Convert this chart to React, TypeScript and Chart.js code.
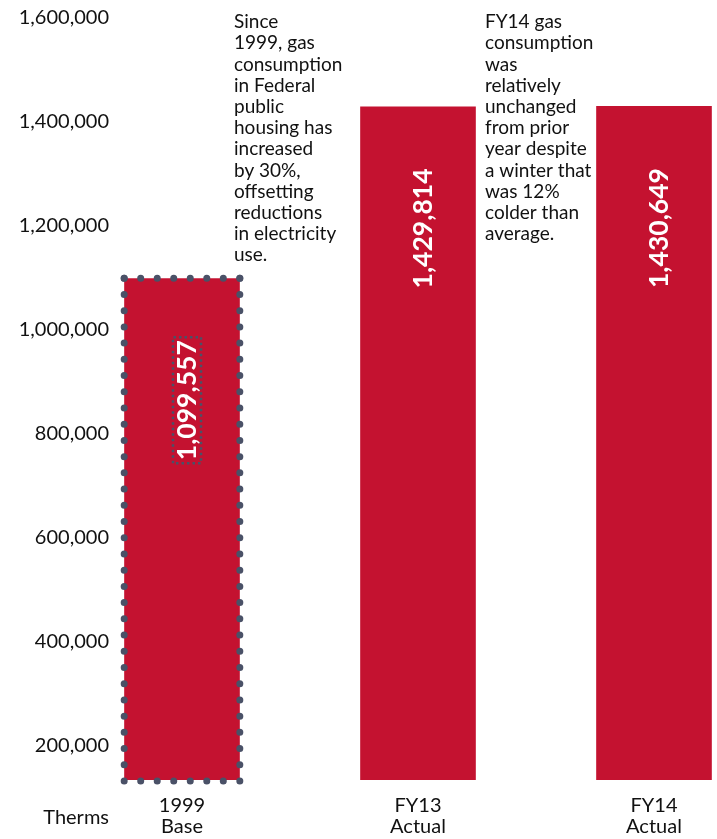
import React, { useEffect, useRef } from "react";
import { Chart, registerables } from "chart.js";

Chart.register(...registerables);

const categories: string[][] = [
  ["1999", "Base"],
  ["FY13", "Actual"],
  ["FY14", "Actual"],
];
const therms: number[] = [1099557, 1429814, 1430649];
const yTicks: number[] = [200000, 400000, 600000, 800000, 1000000, 1200000, 1400000, 1600000];
const axisUnit = "Therms";
const note1Lines: string[] = [
  "Since",
  "1999, gas",
  "consumption",
  "in Federal",
  "public",
  "housing has",
  "increased",
  "by 30%,",
  "offsetting",
  "reductions",
  "in electricity",
  "use.",
];
const note2Lines: string[] = [
  "FY14 gas",
  "consumption",
  "was",
  "relatively",
  "unchanged",
  "from prior",
  "year despite",
  "a winter that",
  "was 12%",
  "colder than",
  "average.",
];

const FONT = 'Lato, "Open Sans", "Noto Sans", sans-serif';
const RED = "#C41230";
const DOT = "#4A5167";
const TEXT = "#111111";
const Y_FONT_SIZE = 20;
const AXIS_LEFT = 64;
const LABEL_RIGHT = 109;

const fmt = (v: number) => v.toLocaleString("en-US");

function drawDottedLine(ctx: CanvasRenderingContext2D, x1: number, y1: number, x2: number, y2: number, step: number) {
  const len = Math.hypot(x2 - x1, y2 - y1);
  const n = Math.max(1, Math.round(len / step));
  const gap = len / n;
  ctx.setLineDash([0, gap]);
  ctx.beginPath();
  ctx.moveTo(x1, y1);
  ctx.lineTo(x2, y2);
  ctx.stroke();
}

const decorPlugin = {
  id: "decor",
  afterDatasetsDraw(chart: any) {
    const ctx: CanvasRenderingContext2D = chart.ctx;
    const meta = chart.getDatasetMeta(0);
    const xs = chart.scales.x;
    const area = chart.chartArea;
    ctx.save();

    // dotted border around the base-year bar
    const b0 = meta.data[0].getProps(["x", "y", "base", "width"], true);
    const l = b0.x - b0.width / 2;
    const r = b0.x + b0.width / 2;
    const bottom = Math.min(b0.base, area.bottom) + 1;
    ctx.strokeStyle = DOT;
    ctx.lineWidth = 7;
    ctx.lineCap = "round";
    drawDottedLine(ctx, l, b0.y, r, b0.y, 16.4);
    drawDottedLine(ctx, r, b0.y, r, bottom, 16.4);
    drawDottedLine(ctx, l, bottom, r, bottom, 16.4);
    drawDottedLine(ctx, l, b0.y, l, bottom, 16.4);
    ctx.setLineDash([]);

    // value labels inside bars
    ctx.font = `bold 26.5px ${FONT}`;
    meta.data.forEach((el: any, i: number) => {
      const p = el.getProps(["x", "y"], true);
      const txt = fmt(therms[i]);
      ctx.save();
      ctx.translate(p.x + 5, p.y + 62);
      ctx.rotate(-Math.PI / 2);
      ctx.textAlign = "right";
      ctx.textBaseline = "middle";
      ctx.fillStyle = "#ffffff";
      ctx.fillText(txt, 0, 0);
      if (i === 0) {
        const w = ctx.measureText(txt).width;
        ctx.strokeStyle = DOT;
        ctx.lineWidth = 2.5;
        ctx.lineCap = "butt";
        ctx.setLineDash([2.5, 3]);
        ctx.strokeRect(-w - 3, -14, w + 6, 28);
      }
      ctx.restore();
    });

    // annotations
    ctx.font = `19px ${FONT}`;
    ctx.fillStyle = TEXT;
    ctx.textAlign = "left";
    ctx.textBaseline = "middle";
    note1Lines.forEach((s, i) => ctx.fillText(s, 234, 22 + i * 21.2));
    note2Lines.forEach((s, i) => ctx.fillText(s, 485, 22 + i * 21.2));

    // unit label
    ctx.font = `20px ${FONT}`;
    ctx.textAlign = "right";
    ctx.fillText(axisUnit, LABEL_RIGHT, xs.top + 38);
    ctx.restore();
  },
};

export default function App() {
  const ref = useRef<HTMLCanvasElement | null>(null);

  useEffect(() => {
    if (!ref.current) return;
    const mctx = ref.current.getContext("2d") as CanvasRenderingContext2D;
    mctx.font = `normal ${Y_FONT_SIZE}px ${FONT}`;
    const widest = Math.max(...yTicks.map((v) => mctx.measureText(fmt(v)).width));
    const yPad = LABEL_RIGHT - AXIS_LEFT - widest;

    const chart = new Chart(ref.current, {
      type: "bar",
      data: {
        labels: categories,
        datasets: [
          {
            data: therms,
            backgroundColor: RED,
            borderWidth: 0,
            barPercentage: 0.49,
            categoryPercentage: 1,
          },
        ],
      },
      options: {
        responsive: false,
        animation: false,
        devicePixelRatio: 1,
        layout: { padding: { top: 18, left: 0, right: 0, bottom: 0 } },
        plugins: {
          legend: { display: false },
          tooltip: { enabled: false },
        },
        scales: {
          x: {
            grid: { display: false },
            border: { display: false },
            ticks: {
              color: TEXT,
              font: { family: FONT, size: 20, lineHeight: 1.05 },
              padding: 7,
              maxRotation: 0,
              autoSkip: false,
            },
            afterFit: (s: any) => {
              s.height = 59;
            },
          },
          y: {
            min: 134615,
            max: 1600000,
            grid: { display: false, drawTicks: false },
            border: { display: false },
            afterBuildTicks: (s: any) => {
              s.ticks = yTicks.map((v) => ({ value: v }));
            },
            ticks: {
              color: TEXT,
              font: { family: FONT, size: Y_FONT_SIZE },
              mirror: true,
              crossAlign: "far",
              padding: yPad,
              autoSkip: false,
              callback: (v: any) => fmt(Number(v)),
            },
            afterFit: (s: any) => {
              s.width = AXIS_LEFT;
            },
          },
        },
      },
      plugins: [decorPlugin],
    });
    return () => chart.destroy();
  }, []);

  return (
    <div
      style={{
        position: "fixed",
        left: 0,
        top: 0,
        width: 717,
        height: 839,
        overflow: "hidden",
        background: "#ffffff",
      }}
    >
      <canvas ref={ref} width={772} height={839} style={{ display: "block" }} />
    </div>
  );
}
